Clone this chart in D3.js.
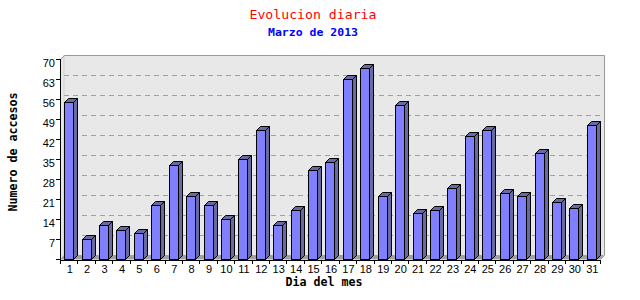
<!DOCTYPE html>
<html><head><meta charset="utf-8">
<script src="https://cdn.jsdelivr.net/npm/d3@7/dist/d3.min.js"></script>
<style>body{margin:0;background:#fff}svg{display:block}</style>
</head><body>
<svg id="c" width="640" height="300"></svg>
<script>
const days = d3.range(1, 32).map(String);
const accesos = [55,7,12,10,9,19,33,22,19,14,35,45,12,17,31,34,63,67,22,54,16,17,25,43,45,23,22,37,20,18,47];
const yTicks = [7,14,21,28,35,42,49,56,63,70];
const title = "Evolucion diaria";
const subtitle = "Marzo de 2013";
const xTitle = "Dia del mes";
const yTitle = "Numero de accesos";

const svg = d3.select("#c");
const D = 4; // depth offset
const x = d3.scaleBand().domain(days).range([60, 600]).paddingInner(0).paddingOuter(0);
const y = d3.scaleLinear().domain([0, 70]).range([259, 59]);
const yb = v => y(v) - D; // back wall

// back wall
const g = svg.append("g");
g.append("path").attr("d", `M60,${y(70)}L${60+D},${yb(70)}L${604},${yb(70)}L604,${yb(0)}L${600},${y(0)}L60,${y(0)}Z`)
  .attr("fill", "#e8e8e8");
// left wall edge
g.append("line").attr("x1", 60+D).attr("x2", 60+D).attr("y1", yb(70)).attr("y2", yb(0)).attr("stroke", "#d0d0d0");
// floor
g.append("path").attr("d", `M60,${y(0)+0.5}L${60+D},${yb(0)}L604,${yb(0)}L600,${y(0)+0.5}Z`).attr("fill", "#a0a0a0");
// grid
g.selectAll("line.grid").data(yTicks.filter(t => t < 70)).join("line")
  .attr("x1", 60+D).attr("x2", 604).attr("y1", d => Math.round(yb(d)) + 0.5).attr("y2", d => Math.round(yb(d)) + 0.5)
  .attr("stroke", "#a0a0a0").attr("stroke-dasharray", "5,4");
// border
g.append("path").attr("d", `M60.5,${y(70)+0.5}L${60+D+0.5},${yb(70)+0.5}L604.5,${yb(70)+0.5}L604.5,${yb(0)+0.5}L600.5,${y(0)+0.5}`)
  .attr("fill", "none").attr("stroke", "#999");

// bars
const bw = 9;
const bars = svg.append("g").selectAll("g").data(accesos).join("g");
bars.each(function(v, i) {
  const s = d3.select(this);
  const cx = x(days[i]) + x.bandwidth() / 2;
  const x0 = Math.round(cx - bw / 2) + 0.5, x1 = x0 + bw;
  const yt = Math.round(y(v)) + 0.5, y0 = Math.round(y(0)) + 0.5;
  s.append("path").attr("d", `M${x1},${yt}L${x1+D},${yt-D}L${x1+D},${y0-D}L${x1},${y0}Z`)
    .attr("fill", "#6a6aa2").attr("stroke", "#000");
  s.append("path").attr("d", `M${x0},${yt}L${x0+D},${yt-D}L${x1+D},${yt-D}L${x1},${yt}Z`)
    .attr("fill", "#6a6aa2").attr("stroke", "#000");
  s.append("rect").attr("x", x0).attr("y", yt).attr("width", bw).attr("height", y0 - yt)
    .attr("fill", "#8080ff").attr("stroke", "#000");
});

// axes
const ax = svg.append("g").attr("font-family", "Liberation Sans, Arial, sans-serif").attr("font-size", 11);
ax.append("line").attr("x1", 60.5).attr("x2", 60.5).attr("y1", y(70)).attr("y2", 260.5).attr("stroke", "#000");
ax.append("line").attr("x1", 60).attr("x2", 601).attr("y1", 260.5).attr("y2", 260.5).attr("stroke", "#000");
ax.selectAll("line.yt").data([0].concat(yTicks)).join("line")
  .attr("x1", 56).attr("x2", 60).attr("y1", d => Math.round(y(d)) + 0.5).attr("y2", d => Math.round(y(d)) + 0.5).attr("stroke", "#000");
ax.selectAll("text.yl").data(yTicks).join("text")
  .attr("x", 55).attr("y", d => y(d) + 8).attr("text-anchor", "end").text(d => d);
ax.selectAll("line.xt").data(days.concat(["end"])).join("line")
  .attr("x1", (d, i) => Math.round(60 + i * x.bandwidth()) + 0.5)
  .attr("x2", (d, i) => Math.round(60 + i * x.bandwidth()) + 0.5)
  .attr("y1", 260).attr("y2", 264).attr("stroke", "#000");
ax.selectAll("text.xl").data(days).join("text")
  .attr("x", d => x(d) + x.bandwidth() / 2 + 1).attr("y", 273).attr("text-anchor", "middle").text(d => d);

// titles
const mono = "DejaVu Sans Mono, Liberation Mono, monospace";
svg.append("text").attr("x", 313).attr("y", 19).attr("text-anchor", "middle").attr("font-family", mono)
  .attr("font-size", 13).attr("fill", "#ff0000").attr("textLength", 127).attr("lengthAdjust", "spacingAndGlyphs").text(title);
svg.append("text").attr("x", 313).attr("y", 36).attr("text-anchor", "middle").attr("font-family", mono).attr("font-weight", "bold")
  .attr("font-size", 11).attr("fill", "#0000ff").attr("textLength", 90).attr("lengthAdjust", "spacingAndGlyphs").text(subtitle);
svg.append("text").attr("x", 324).attr("y", 286).attr("text-anchor", "middle").attr("font-family", mono).attr("font-weight", "bold")
  .attr("font-size", 12).attr("fill", "#000").attr("textLength", 77).attr("lengthAdjust", "spacingAndGlyphs").text(xTitle);
svg.append("text").attr("transform", "translate(17,152) rotate(-90)").attr("text-anchor", "middle").attr("font-family", mono).attr("font-weight", "bold")
  .attr("font-size", 12).attr("fill", "#000").attr("textLength", 119).attr("lengthAdjust", "spacingAndGlyphs").text(yTitle);
</script>
</body></html>
